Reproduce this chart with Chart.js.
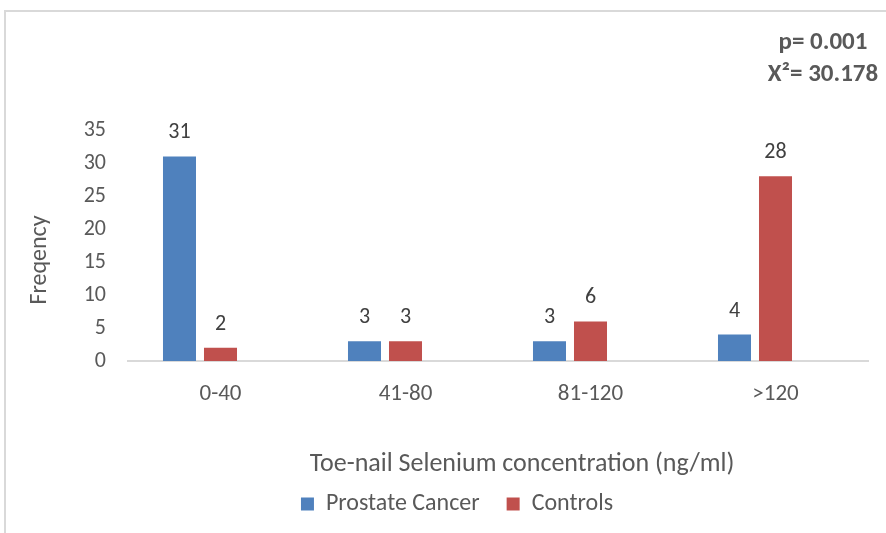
<!DOCTYPE html>
<html>
<head>
<meta charset="utf-8">
<script src="https://cdn.jsdelivr.net/npm/chart.js@4.4.1/dist/chart.umd.min.js"></script>
<style>
  html, body { margin: 0; padding: 0; background: #ffffff; }
  #wrap { position: relative; width: 886px; height: 533px; overflow: hidden; }
  #frame { position: absolute; left: 4px; top: 10px; width: 1000px; height: 700px; border: 2px solid #d9d9d9; }
  #c { position: absolute; left: 0; top: 0; }
</style>
</head>
<body>
<div id="wrap">
  <div id="frame"></div>
  <canvas id="c" width="886" height="533"></canvas>
</div>
<script>
// Toe-nail selenium groups and case/control counts
const categories = ['0-40', '41-80', '81-120', '>120'];
const prostateCancer = [31, 3, 3, 4];
const controls = [2, 3, 6, 28];
const yTicks = [0, 5, 10, 15, 20, 25, 30, 35];
const seriesNames = ['Prostate Cancer', 'Controls'];
const yTitle = 'Freqency';
const xTitle = 'Toe-nail Selenium concentration (ng/ml)';
const statLines = ['p= 0.001', 'X\u00B2= 30.178'];

const FONT = 'Carlito, Lato, "Liberation Sans", sans-serif';
const AXIS_TEXT = '#595959';
const LABEL_TEXT = '#404040';
const BLUE = '#4f81bd';
const RED = '#c0504d';

// Value labels above each bar, plus axis titles and the test statistics
const annotations = {
  id: 'annotations',
  afterDatasetsDraw(chart) {
    const ctx = chart.ctx;
    ctx.save();
    ctx.font = '22px ' + FONT;
    ctx.fillStyle = LABEL_TEXT;
    ctx.textAlign = 'center';
    ctx.textBaseline = 'alphabetic';
    [0, 1].forEach(di => {
      const meta = chart.getDatasetMeta(di);
      meta.data.forEach((bar, i) => {
        const v = chart.data.datasets[di].data[i];
        ctx.fillText(String(v), bar.x, bar.y - 18);
      });
    });
    ctx.restore();
  },
  afterDraw(chart) {
    const ctx = chart.ctx;
    ctx.save();
    ctx.fillStyle = AXIS_TEXT;
    ctx.textAlign = 'center';
    ctx.textBaseline = 'middle';

    // x axis title
    ctx.font = '26px ' + FONT;
    ctx.fillText(xTitle, 522, 464);

    // y axis title
    ctx.save();
    ctx.translate(40, 260);
    ctx.rotate(-Math.PI / 2);
    ctx.font = '24px ' + FONT;
    ctx.fillText(yTitle, 0, 0);
    ctx.restore();

    // chi-square result
    ctx.font = 'bold 25px ' + FONT;
    ctx.fillText(statLines[0], 823, 43);
    ctx.fillText(statLines[1], 823, 75);
    ctx.restore();
  }
};

new Chart(document.getElementById('c'), {
  type: 'bar',
  data: {
    labels: categories,
    datasets: [
      { label: seriesNames[0], data: prostateCancer, backgroundColor: BLUE, borderWidth: 0 },
      { label: seriesNames[1], data: controls, backgroundColor: RED, borderWidth: 0 },
      // empty third series keeps a free slot to the right of each pair
      { label: '', data: categories.map(() => null), backgroundColor: 'rgba(0,0,0,0)', borderWidth: 0 }
    ]
  },
  options: {
    responsive: false,
    animation: false,
    devicePixelRatio: 1,
    categoryPercentage: 0.665,
    barPercentage: 0.805,
    layout: { padding: { left: 46, right: 18, top: 130, bottom: 7 } },
    scales: {
      x: {
        grid: { display: false, drawTicks: false },
        border: { display: true, color: '#d9d9d9', width: 2 },
        ticks: { color: AXIS_TEXT, font: { family: FONT, size: 23 }, padding: 19 },
        afterFit(scale) { scale.height = 104; }
      },
      y: {
        min: 0,
        max: 35,
        grid: { display: false, drawTicks: false },
        border: { display: false },
        afterBuildTicks(scale) { scale.ticks = yTicks.map(v => ({ value: v })); },
        ticks: { color: AXIS_TEXT, font: { family: FONT, size: 22 }, padding: 22 },
        afterFit(scale) { scale.width = 82; }
      }
    },
    plugins: {
      legend: {
        position: 'bottom',
        labels: {
          color: AXIS_TEXT,
          font: { family: FONT, size: 24 },
          boxWidth: 13,
          boxHeight: 13,
          padding: 27,
          filter: item => item.datasetIndex < 2
        }
      },
      tooltip: { enabled: false }
    }
  },
  plugins: [annotations]
});
</script>
</body>
</html>
